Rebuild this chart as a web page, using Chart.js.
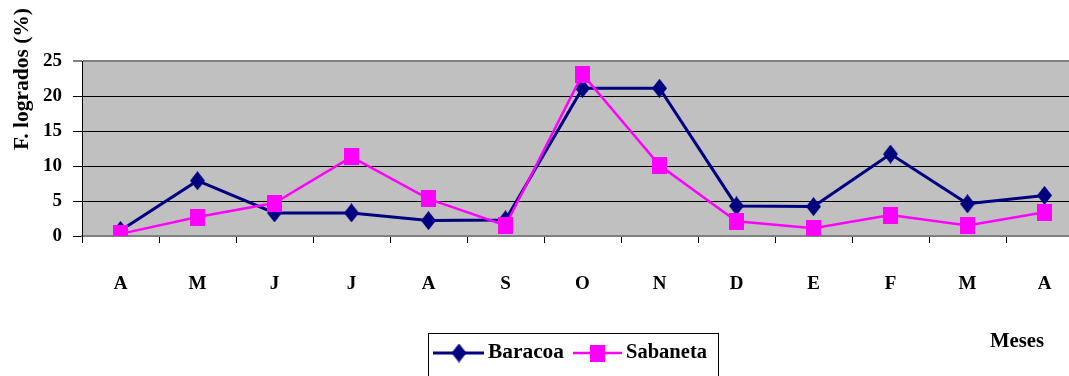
<!DOCTYPE html>
<html>
<head>
<meta charset="utf-8">
<script src="https://cdn.jsdelivr.net/npm/chart.js@4/dist/chart.umd.min.js"></script>
<style>
  html, body { margin: 0; padding: 0; background: #fff; overflow: hidden; }
  #wrap { position: relative; width: 1069px; height: 376px; overflow: hidden; }
  canvas { position: absolute; left: 0; top: 0; }
</style>
</head>
<body>
<div id="wrap"><canvas id="c" width="1095" height="376"></canvas></div>
<script>
const categories = ['A', 'M', 'J', 'J', 'A', 'S', 'O', 'N', 'D', 'E', 'F', 'M', 'A'];
const baracoa  = [0.8, 7.9, 3.3, 3.3, 2.2, 2.3, 21.1, 21.1, 4.3, 4.2, 11.7, 4.6, 5.8];
const sabaneta = [0.3, 2.7, 4.7, 11.3, 5.3, 1.5, 23.1, 10.1, 2.1, 1.1, 3.0, 1.5, 3.4];
const yTicks = [0, 5, 10, 15, 20, 25];
const seriesNames = ['Baracoa', 'Sabaneta'];
const yTitle = 'F. logrados (%)';
const xTitle = 'Meses';

const NAVY = '#000080';
const MAGENTA = '#FF00FF';
const SERIF = '"Liberation Serif", "Times New Roman", serif';

function makeDiamond(w, h, color) {
  const c = document.createElement('canvas');
  c.width = w; c.height = h;
  const g = c.getContext('2d');
  g.fillStyle = color;
  g.beginPath();
  g.moveTo(w / 2, 0); g.lineTo(w, h / 2); g.lineTo(w / 2, h); g.lineTo(0, h / 2);
  g.closePath(); g.fill();
  return c;
}
function makeSquare(w, h, color) {
  const c = document.createElement('canvas');
  c.width = w; c.height = h;
  const g = c.getContext('2d');
  g.fillStyle = color;
  g.fillRect(0, 0, w, h);
  return c;
}
const diamondImg = makeDiamond(15, 19, NAVY);
const squareImg = makeSquare(15, 17, MAGENTA);

function stretchedText(ctx, text, x, y, targetWidth) {
  const w = ctx.measureText(text).width;
  const s = Math.max(1, targetWidth / w);
  ctx.save();
  ctx.translate(x, y);
  ctx.scale(s, 1);
  ctx.fillText(text, 0, 0);
  ctx.restore();
}

const decorPlugin = {
  id: 'decor',
  beforeDraw(chart) {
    const { ctx, chartArea: a } = chart;
    ctx.save();
    ctx.fillStyle = '#C0C0C0';
    ctx.fillRect(a.left, a.top, a.right - a.left, a.bottom - a.top);
    ctx.restore();
  },
  afterDraw(chart) {
    const ctx = chart.ctx;
    ctx.save();
    // y axis title
    ctx.fillStyle = '#000';
    ctx.font = 'bold 20px ' + SERIF;
    ctx.translate(28, 150);
    ctx.rotate(-Math.PI / 2);
    ctx.textAlign = 'left';
    ctx.textBaseline = 'alphabetic';
    stretchedText(ctx, yTitle, 0, 0, 142);
    ctx.restore();

    ctx.save();
    ctx.fillStyle = '#000';
    ctx.font = 'bold 20px ' + SERIF;
    ctx.textAlign = 'left';
    ctx.textBaseline = 'alphabetic';
    stretchedText(ctx, xTitle, 990, 347, 54);

    // legend box
    ctx.strokeStyle = '#000';
    ctx.lineWidth = 1;
    ctx.strokeRect(428.5, 333.5, 290, 60);
    const ly = 353;
    // Baracoa
    ctx.strokeStyle = NAVY; ctx.lineWidth = 3;
    ctx.beginPath(); ctx.moveTo(433, ly); ctx.lineTo(484, ly); ctx.stroke();
    ctx.drawImage(diamondImg, 459 - 7.5, ly - 9.5);
    ctx.fillStyle = '#000';
    stretchedText(ctx, seriesNames[0], 488, 358, 76);
    // Sabaneta
    ctx.strokeStyle = MAGENTA; ctx.lineWidth = 2.5;
    ctx.beginPath(); ctx.moveTo(573, ly); ctx.lineTo(622, ly); ctx.stroke();
    ctx.drawImage(squareImg, 597 - 7.5, ly - 8.5);
    ctx.fillStyle = '#000';
    stretchedText(ctx, seriesNames[1], 626, 358, 81);
    ctx.restore();
  }
};

new Chart(document.getElementById('c'), {
  type: 'line',
  data: {
    labels: categories,
    datasets: [
      {
        label: seriesNames[0],
        data: baracoa,
        borderColor: NAVY,
        backgroundColor: NAVY,
        borderWidth: 3,
        pointStyle: diamondImg,
        pointRadius: 9,
        tension: 0,
        order: 1
      },
      {
        label: seriesNames[1],
        data: sabaneta,
        borderColor: MAGENTA,
        backgroundColor: MAGENTA,
        borderWidth: 2.5,
        pointStyle: squareImg,
        pointRadius: 9,
        tension: 0,
        order: 0
      }
    ]
  },
  options: {
    responsive: false,
    animation: false,
    events: [],
    layout: { padding: { top: 61, right: 0, left: 0, bottom: 0 } },
    plugins: {
      legend: { display: false },
      title: { display: false },
      tooltip: { enabled: false }
    },
    scales: {
      x: {
        offset: true,
        grid: {
          display: true,
          drawOnChartArea: false,
          drawTicks: true,
          tickLength: 7,
          color: '#000',
          offset: true
        },
        border: { display: true, color: '#808080', width: 2 },
        ticks: {
          color: '#000',
          font: { family: SERIF, size: 19, weight: 'bold' },
          padding: 30,
          maxRotation: 0,
          autoSkip: false
        },
        afterFit(scale) { scale.height = 140; }
      },
      y: {
        min: 0,
        max: 25,
        afterBuildTicks(scale) { scale.ticks = yTicks.map(v => ({ value: v })); },
        grid: {
          color: ctx => (ctx.tick && ctx.tick.value === 25) ? '#808080' : '#000',
          lineWidth: ctx => (ctx.tick && ctx.tick.value === 25) ? 2 : 1,
          tickLength: 9,
          drawTicks: true
        },
        border: { display: true, color: '#000', width: 1 },
        ticks: {
          color: '#000',
          font: { family: SERIF, size: 19, weight: 'bold' },
          padding: 11
        },
        afterFit(scale) { scale.width = 82; }
      }
    }
  },
  plugins: [decorPlugin]
});
</script>
</body>
</html>
